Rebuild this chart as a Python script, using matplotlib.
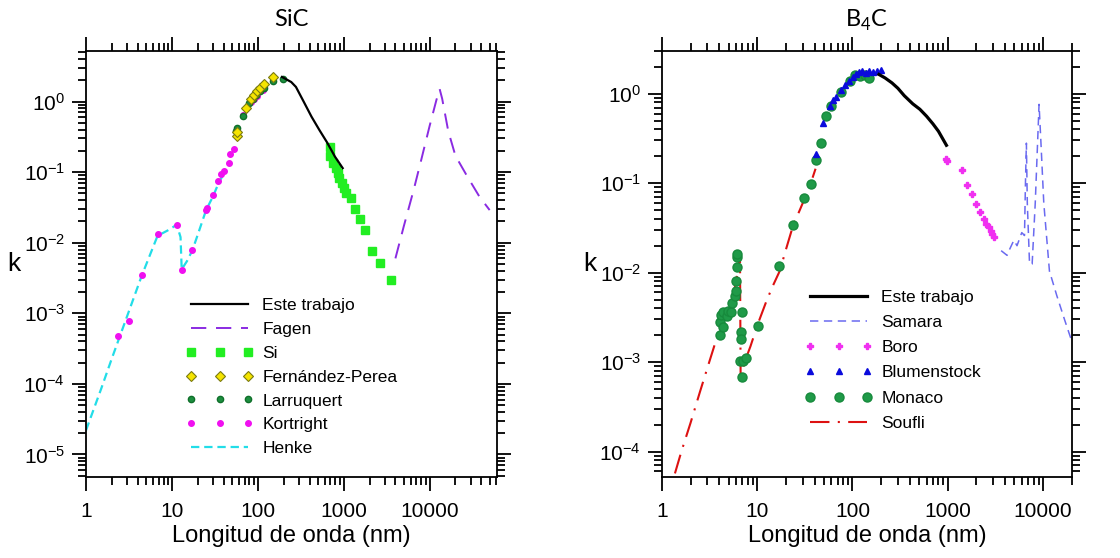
import numpy as np
import matplotlib
matplotlib.use('Agg')
import matplotlib.pyplot as plt
from matplotlib import ticker

# ---------------- SiC data ----------------
sic_este_x = [191, 245, 278, 343, 422, 521, 641, 790, 973]
sic_este_y = [2.23, 1.89, 1.61, 0.99, 0.61, 0.395, 0.263, 0.166, 0.114]

fagen_x = [4000, 5000, 6500, 8000, 10000, 12000, 13100, 14000, 16500, 20000, 27000, 38000, 50000]
fagen_y = [0.006, 0.017, 0.055, 0.15, 0.45, 1.05, 1.5, 1.1, 0.38, 0.17, 0.09, 0.045, 0.029]

si_x = [697, 697, 755, 808, 856, 890, 958, 1015, 1057, 1200, 1340, 1540, 1780, 2110, 2660, 3550]
si_y = [0.23, 0.171, 0.134, 0.114, 0.096, 0.083, 0.070, 0.060, 0.051, 0.043, 0.030, 0.022, 0.0151,
        0.0077, 0.0051, 0.0030]

fperea_x = [57, 58, 72, 84, 90, 98, 106, 117, 152]
fperea_y = [0.33, 0.37, 0.82, 1.1, 1.25, 1.4, 1.55, 1.75, 2.2]

larru_x = [56, 58, 68, 80, 88, 95, 105, 118, 150, 195]
larru_y = [0.38, 0.42, 0.62, 0.95, 1.1, 1.25, 1.4, 1.55, 1.95, 2.1]

kort_x = [2.34, 3.17, 4.45, 6.8, 11.4, 13.0, 17.3, 24.8, 25.4, 30.4, 34.8, 37.4, 40.6, 45.9,
          47.6, 53.5, 68.1, 82.8, 90.6, 99, 114]
kort_y = [4.75e-4, 7.9e-4, 3.5e-3, 0.0135, 0.018, 0.0041, 0.0079, 0.029, 0.031, 0.047, 0.076,
          0.095, 0.103, 0.135, 0.18, 0.215, 0.65, 0.97, 1.08, 1.18, 1.46]

henke_x = [1, 1.5, 2, 3, 4.45, 6.8, 9, 11.4, 12.6, 13.0, 15, 17.3, 20, 25, 30, 35, 41]
henke_y = [2.2e-5, 8.5e-5, 2.3e-4, 9.0e-4, 3.4e-3, 0.0125, 0.015, 0.018, 0.012, 0.0042, 0.0055,
           0.0078, 0.013, 0.029, 0.045, 0.07, 0.1]

# ---------------- B4C data ----------------
b4c_este_x = [190, 220, 260, 300, 350, 430, 510, 600, 700, 800, 970]
b4c_este_y = [1.64, 1.5, 1.32, 1.15, 0.95, 0.77, 0.67, 0.56, 0.46, 0.38, 0.265]

samara_x = [3640, 4200, 4400, 4950, 5340, 5990, 6400, 6550, 6700, 6850, 7230, 7700, 8300, 8800,
            9100, 9500, 10200, 11700, 14000, 17000, 20500]
samara_y = [0.0176, 0.0156, 0.0176, 0.023, 0.020, 0.028, 0.026, 0.1, 0.28, 0.06, 0.0125, 0.0125,
            0.06, 0.3, 0.76, 0.3, 0.06, 0.0104, 0.0055, 0.0029, 0.0016]

boro_x = [960, 985, 1410, 1600, 1800, 2000, 2200, 2400, 2550, 2700, 2850, 2950, 3050]
boro_y = [0.185, 0.175, 0.14, 0.095, 0.075, 0.058, 0.047, 0.040, 0.035, 0.032, 0.029, 0.027, 0.025]

blum_x = [41, 49, 58, 63, 67, 75, 84, 92, 101, 110, 118, 126, 138, 150, 163, 180, 200]
blum_y = [0.21, 0.47, 0.72, 0.85, 0.92, 1.1, 1.25, 1.4, 1.55, 1.68, 1.75, 1.78, 1.72, 1.78, 1.75,
          1.78, 1.82]

monaco_x = [4.05, 4.05, 4.22, 4.4, 4.4, 4.77, 4.97, 5.37, 5.5, 5.8, 5.93, 5.97, 6.07, 6.1, 6.15,
            6.58, 6.74, 6.74, 6.85, 7.0, 7.1, 7.7, 10.2, 17.0, 23.9, 30.9, 36.3, 41.2, 46.6, 53.4,
            60.2, 75.3, 93.9, 105.6, 120, 134, 151]
monaco_y = [2.0e-3, 2.8e-3, 3.4e-3, 2.45e-3, 3.6e-3, 3.3e-3, 3.7e-3, 3.6e-3, 4.6e-3, 5.5e-3,
            6.2e-3, 8.1e-3, 0.0115, 0.0149, 0.016, 1.04e-3, 2.15e-3, 1.8e-3, 3.6e-3, 6.9e-4,
            1.04e-3, 1.12e-3, 2.55e-3, 0.0118, 0.034, 0.069, 0.098, 0.18, 0.28, 0.56, 0.72, 1.04,
            1.37, 1.6, 1.58, 1.6, 1.5]

soufli_x = [1.37, 1.6, 2.0, 2.5, 3.0, 3.5, 4.0, 4.35, 4.45, 5.0, 5.5, 6.0, 6.4, 6.6, 6.7, 7.5,
            8.5, 10.2, 12.5, 14.5, 17.3, 20, 23.9, 28, 32, 36.3, 41]
soufli_y = [5.7e-5, 1.0e-4, 2.1e-4, 4.6e-4, 8.6e-4, 1.45e-3, 2.3e-3, 3.0e-3, 2.5e-3, 3.5e-3,
            5e-3, 8e-3, 0.012, 0.0155, 7e-4, 1.05e-3, 1.5e-3, 2.7e-3, 4.8e-3, 7e-3, 0.0105,
            0.018, 0.034, 0.05, 0.07, 0.098, 0.145]

x_major = [1, 10, 100, 1000, 10000]
sic_y_major = [1e-5, 1e-4, 1e-3, 1e-2, 1e-1, 1]
b4c_y_major = [1e-4, 1e-3, 1e-2, 1e-1, 1]

plt.rcParams['font.family'] = ['Liberation Sans', 'DejaVu Sans']
plt.rcParams['axes.unicode_minus'] = False
plt.rcParams['lines.scale_dashes'] = False


def style_axes(ax, xlim, ylim, ymajor):
    ax.set_xscale('log')
    ax.set_yscale('log')
    ax.set_xlim(*xlim)
    ax.set_ylim(*ylim)
    ax.xaxis.set_major_locator(ticker.FixedLocator(x_major))
    ax.xaxis.set_minor_locator(ticker.LogLocator(base=10, subs=np.arange(2, 10), numticks=15))
    ax.xaxis.set_major_formatter(ticker.FuncFormatter(lambda v, p: f'{v:g}'))
    ax.xaxis.set_minor_formatter(ticker.NullFormatter())
    ax.yaxis.set_major_locator(ticker.FixedLocator(ymajor))
    ax.yaxis.set_major_formatter(ticker.LogFormatterSciNotation())
    ax.yaxis.set_minor_locator(ticker.LogLocator(base=10, subs=np.arange(2, 10), numticks=15))
    ax.yaxis.set_minor_formatter(ticker.NullFormatter())
    ax.tick_params(which='both', direction='out', top=True, right=True, width=1.3, labelsize=15)
    ax.tick_params(which='major', length=10, pad=5)
    ax.tick_params(axis='x', which='major', pad=8)
    ax.tick_params(which='minor', length=6)
    for s in ax.spines.values():
        s.set_linewidth(1.3)
    ax.set_xlabel('Longitud de onda (nm)', fontsize=17, labelpad=3)
    ax.text(-0.175, 0.5, 'k', transform=ax.transAxes, fontsize=19, ha='center', va='center')


fig = plt.figure(figsize=(11.2, 5.58), dpi=100)
ax1 = fig.add_axes([0.0768, 0.1452, 0.367, 0.7634])
ax2 = fig.add_axes([0.591, 0.1452, 0.366, 0.7634])

# ---- SiC ----
ax1.plot(henke_x, henke_y, color='#22dde8', lw=1.6, dashes=(6, 3.5), label='Henke', zorder=2)
ax1.plot(kort_x, kort_y, 'o', color='#f010f0', ms=4, mec='#f010f0', label='Kortright', zorder=3)
ax1.plot(larru_x, larru_y, 'o', color='#1d8f3f', ms=4.5, mec='#0f6f2a', label='Larruquert', zorder=4)
ax1.plot(fperea_x, fperea_y, 'D', color='#f5e400', ms=5, mec='#7a7a10', mew=0.8,
         label='Fernández-Perea', zorder=5)
ax1.plot(si_x, si_y, 's', color='#22ee22', ms=5.5, mec='#22ee22', label='Si', zorder=3)
ax1.plot(fagen_x, fagen_y, color='#8a2be2', lw=1.4, dashes=(11, 7), label='Fagen', zorder=2)
ax1.plot(sic_este_x, sic_este_y, color='black', lw=1.6, label='Este trabajo', zorder=6)
style_axes(ax1, (1, 61000), (4.8e-6, 5.2), sic_y_major)
ax1.text(0.5, 1.073, 'SiC', transform=ax1.transAxes, ha='center', va='center',
         fontsize=17, family=['Lato', 'DejaVu Sans'])

h, l = ax1.get_legend_handles_labels()
order = ['Este trabajo', 'Fagen', 'Si', 'Fernández-Perea', 'Larruquert', 'Kortright', 'Henke']
hd = dict(zip(l, h))
ax1.legend([hd[k] for k in order], order, loc='upper left', bbox_to_anchor=(0.243, 0.42),
           frameon=False, fontsize=12.5, numpoints=3, handlelength=3.9, handletextpad=0.5,
           labelspacing=0.5, borderpad=0, borderaxespad=0)

# ---- B4C ----
ax2.plot(soufli_x, soufli_y, color='#dd1111', lw=1.5, dashes=(14, 6, 1.5, 6), label='Soufli', zorder=2)
ax2.plot(monaco_x, monaco_y, 'o', color='#1f9a48', ms=6.5, mec='#178a3c', label='Monaco', zorder=3)
ax2.plot(blum_x, blum_y, '^', color='#0a0adc', ms=5, mec='#0a0adc', label='Blumenstock', zorder=4)
ax2.plot(boro_x, boro_y, 'P', color='#f030f0', ms=5, mec='#f030f0', label='Boro', zorder=3)
ax2.plot(samara_x, samara_y, color='#6a6af0', lw=1.1, dashes=(6, 4), label='Samara', zorder=2)
ax2.plot(b4c_este_x, b4c_este_y, color='black', lw=2.3, label='Este trabajo', zorder=6)
style_axes(ax2, (1, 20100), (5.2e-5, 3.0), b4c_y_major)
ax2.text(0.5, 1.073, r'B$_{\mathregular{4}}$C', transform=ax2.transAxes, ha='center', va='center',
         fontsize=17, family=['Lato', 'DejaVu Sans'])

h, l = ax2.get_legend_handles_labels()
order = ['Este trabajo', 'Samara', 'Boro', 'Blumenstock', 'Monaco', 'Soufli']
hd = dict(zip(l, h))
ax2.legend([hd[k] for k in order], order, loc='upper left', bbox_to_anchor=(0.349, 0.44),
           frameon=False, fontsize=12.5, numpoints=3, handlelength=3.9, handletextpad=0.5,
           labelspacing=0.58, borderpad=0, borderaxespad=0)

fig.savefig('out.png', dpi=100)
